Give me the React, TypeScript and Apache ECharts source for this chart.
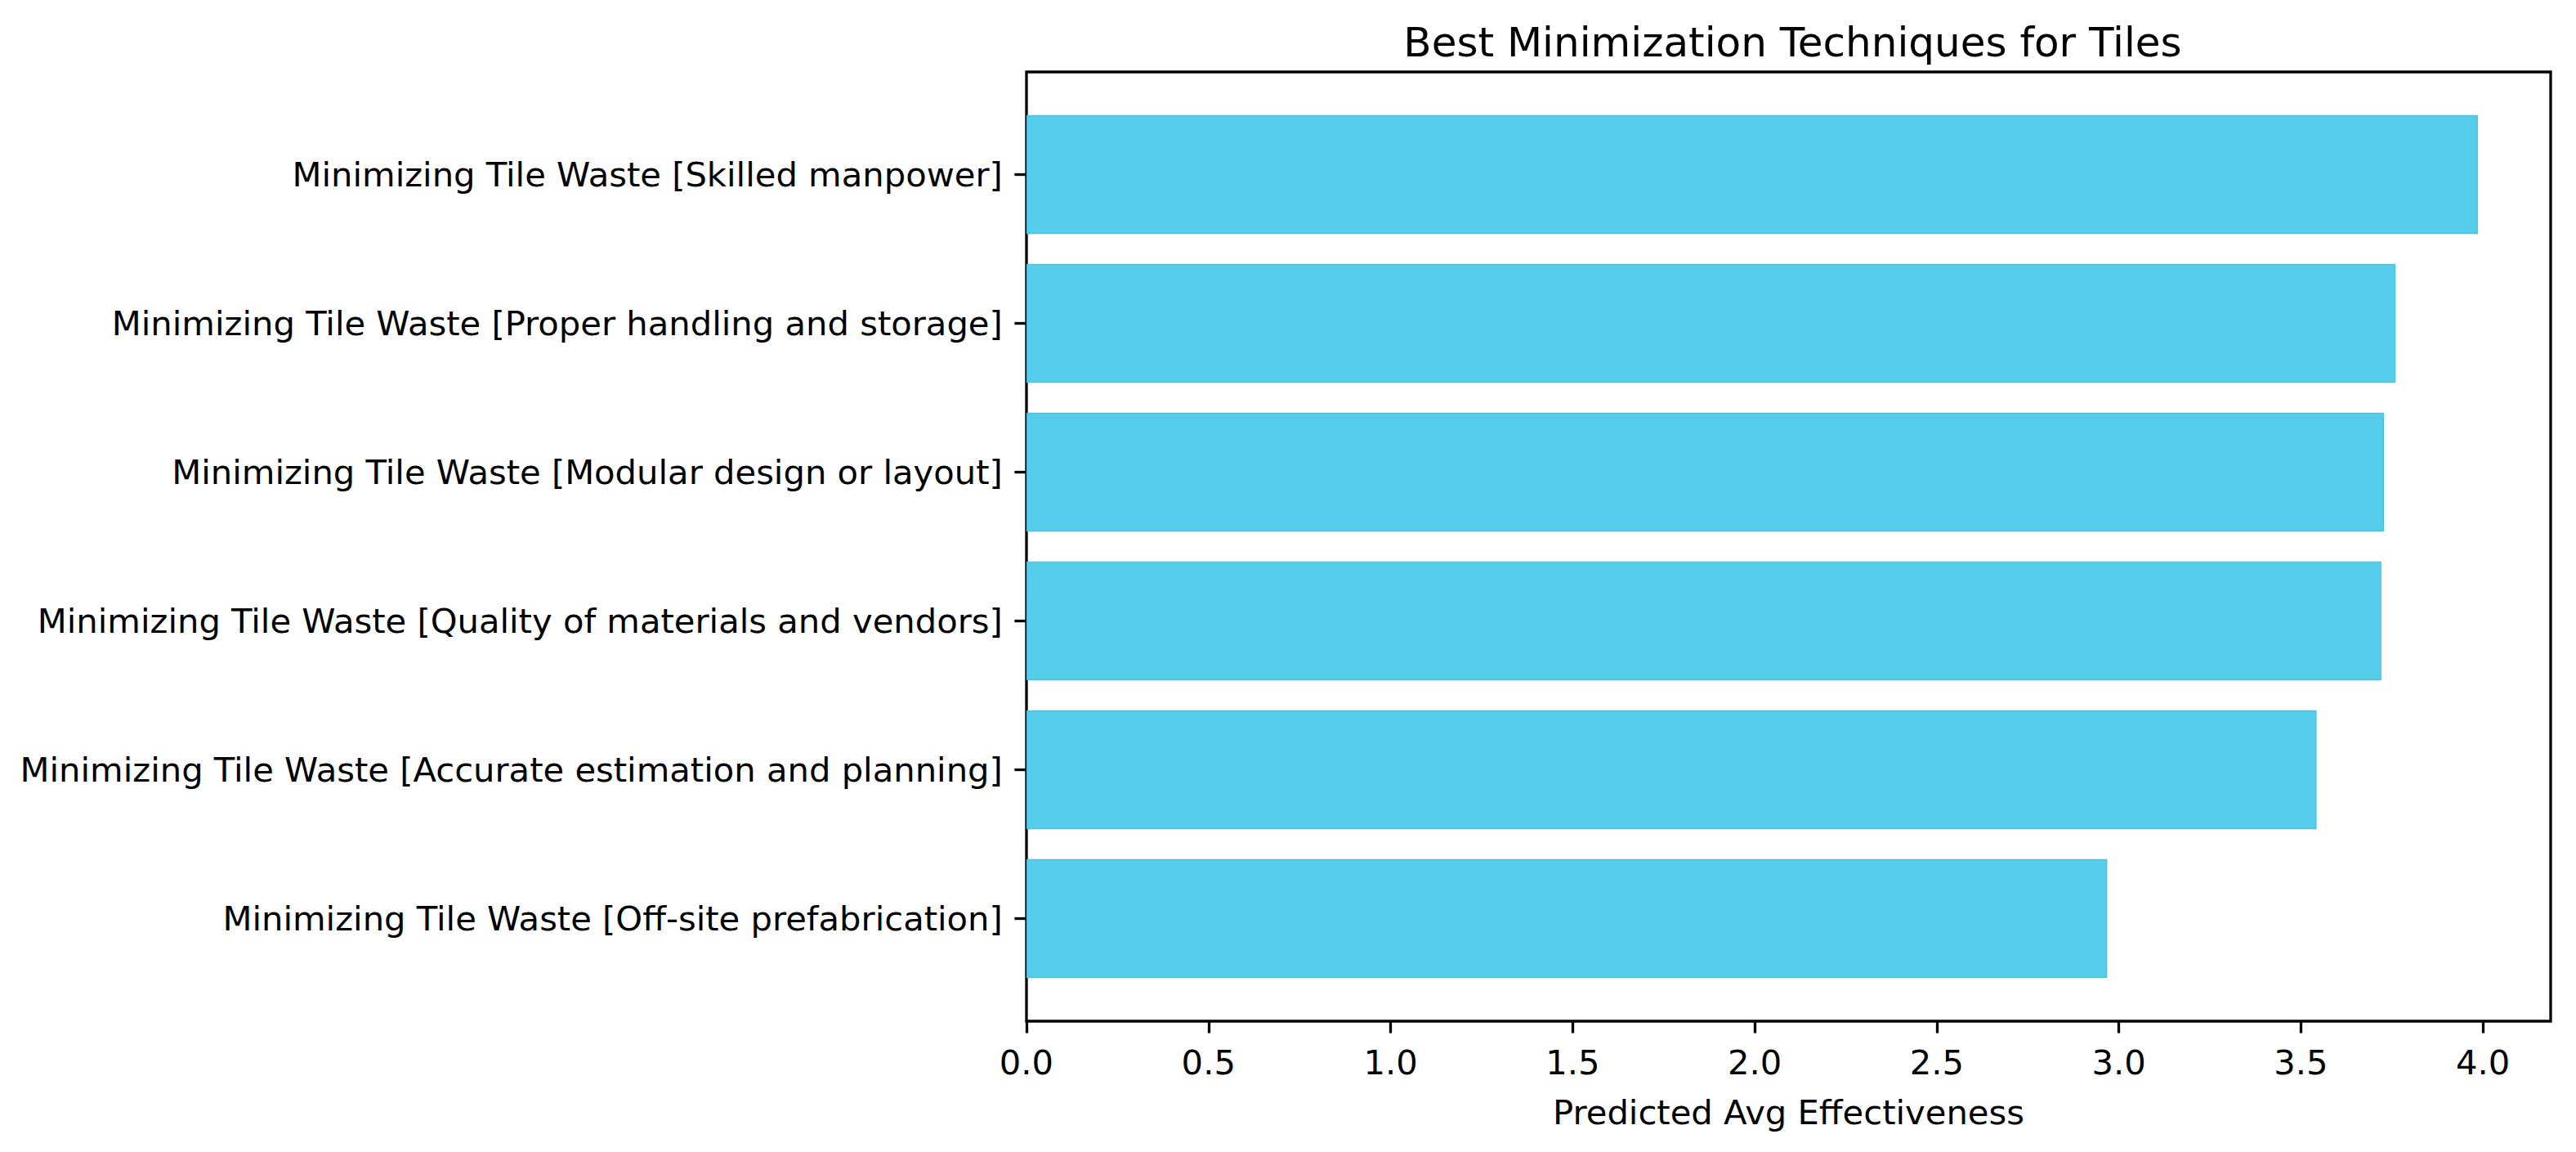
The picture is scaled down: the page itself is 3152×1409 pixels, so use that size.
import React, { useEffect, useRef } from "react";
import * as echarts from "echarts";

const TITLE = "Best Minimization Techniques for Tiles";
const X_NAME = "Predicted Avg Effectiveness";
// bottom to top
const categories = [
  "Minimizing Tile Waste [Off-site prefabrication]",
  "Minimizing Tile Waste [Accurate estimation and planning]",
  "Minimizing Tile Waste [Quality of materials and vendors]",
  "Minimizing Tile Waste [Modular design or layout]",
  "Minimizing Tile Waste [Proper handling and storage]",
  "Minimizing Tile Waste [Skilled manpower]",
];
const values = [2.968, 3.543, 3.721, 3.728, 3.76, 3.986];
const X_MAX = 4.186;
const X_TICK_MAX = 4.0;
const X_INTERVAL = 0.5;

const W = 3152;
const H = 1409;
const PLOT_LEFT = 1256;
const PLOT_RIGHT = 3121;
const PLOT_TOP = 88;
const PLOT_BOTTOM = 1249;
const FONT = "DejaVu Sans";
const FS = 41.7;
const LW = 3.3;
const TICK = 14.6;

export default function App() {
  const ref = useRef<HTMLDivElement>(null);
  useEffect(() => {
    if (!ref.current) return;
    const chart = echarts.init(ref.current, null, { renderer: "svg", width: W, height: H });
    const plotW = PLOT_RIGHT - PLOT_LEFT;
    const plotH = PLOT_BOTTOM - PLOT_TOP;
    const n = categories.length;
    const unit = plotH / (n - 1 + 0.8 + 2 * 0.05 * (n - 1 + 0.8));
    const pad = (0.05 * (n - 1 + 0.8) + 0.4 - 0.5) * unit;
    const right = W - PLOT_RIGHT;
    const bottom = H - PLOT_BOTTOM;
    const tickW = (plotW * X_TICK_MAX) / X_MAX;
    chart.setOption({
      animation: false,
      backgroundColor: "#ffffff",
      title: {
        text: TITLE,
        left: (PLOT_LEFT + PLOT_RIGHT) / 2,
        textAlign: "center",
        top: 22,
        textStyle: { fontFamily: FONT, fontSize: 50, fontWeight: "normal", color: "#000" },
      },
      grid: [
        { left: PLOT_LEFT, right, top: PLOT_TOP + pad, bottom: bottom + pad, containLabel: false },
        {
          left: PLOT_LEFT, right, top: PLOT_TOP, bottom, containLabel: false,
          show: true, borderColor: "#000", borderWidth: LW, backgroundColor: "transparent",
        },
        { left: PLOT_LEFT, width: tickW, top: PLOT_TOP, bottom, containLabel: false },
      ],
      xAxis: [
        { type: "value", gridIndex: 0, min: 0, max: X_MAX, show: false },
        {
          type: "value", gridIndex: 1, min: 0, max: X_MAX,
          axisLine: { show: false }, axisTick: { show: false }, axisLabel: { show: false },
          splitLine: { show: false },
          name: X_NAME, nameLocation: "middle", nameGap: 90,
          nameTextStyle: { fontFamily: FONT, fontSize: FS, color: "#000" },
        },
        {
          type: "value", gridIndex: 2, min: 0, max: X_TICK_MAX, interval: X_INTERVAL,
          axisLine: { show: false },
          axisTick: { show: true, length: TICK, lineStyle: { color: "#000", width: LW } },
          axisLabel: {
            margin: TICK + 14.6,
            fontFamily: FONT, fontSize: FS, color: "#000",
            formatter: (v: number) => v.toFixed(1),
          },
          splitLine: { show: false },
        },
      ],
      yAxis: [
        {
          type: "category", gridIndex: 0, data: categories,
          axisLine: { show: false },
          axisTick: { show: true, alignWithLabel: true, length: TICK, lineStyle: { color: "#000", width: LW } },
          axisLabel: { margin: TICK + 14.6, fontFamily: FONT, fontSize: FS, color: "#000" },
          splitLine: { show: false },
        },
        { type: "value", gridIndex: 1, show: false },
        { type: "value", gridIndex: 2, show: false },
      ],
      series: [
        {
          type: "bar",
          xAxisIndex: 0,
          yAxisIndex: 0,
          data: values,
          barWidth: "80%",
          itemStyle: { color: "#57cdeb", borderColor: "#3fc6e8", borderWidth: 1.5 },
        },
      ],
    });
    return () => chart.dispose();
  }, []);
  return (
    <div
      ref={ref}
      style={{ position: "fixed", left: 0, top: 0, width: W, height: H, background: "#fff" }}
    />
  );
}
